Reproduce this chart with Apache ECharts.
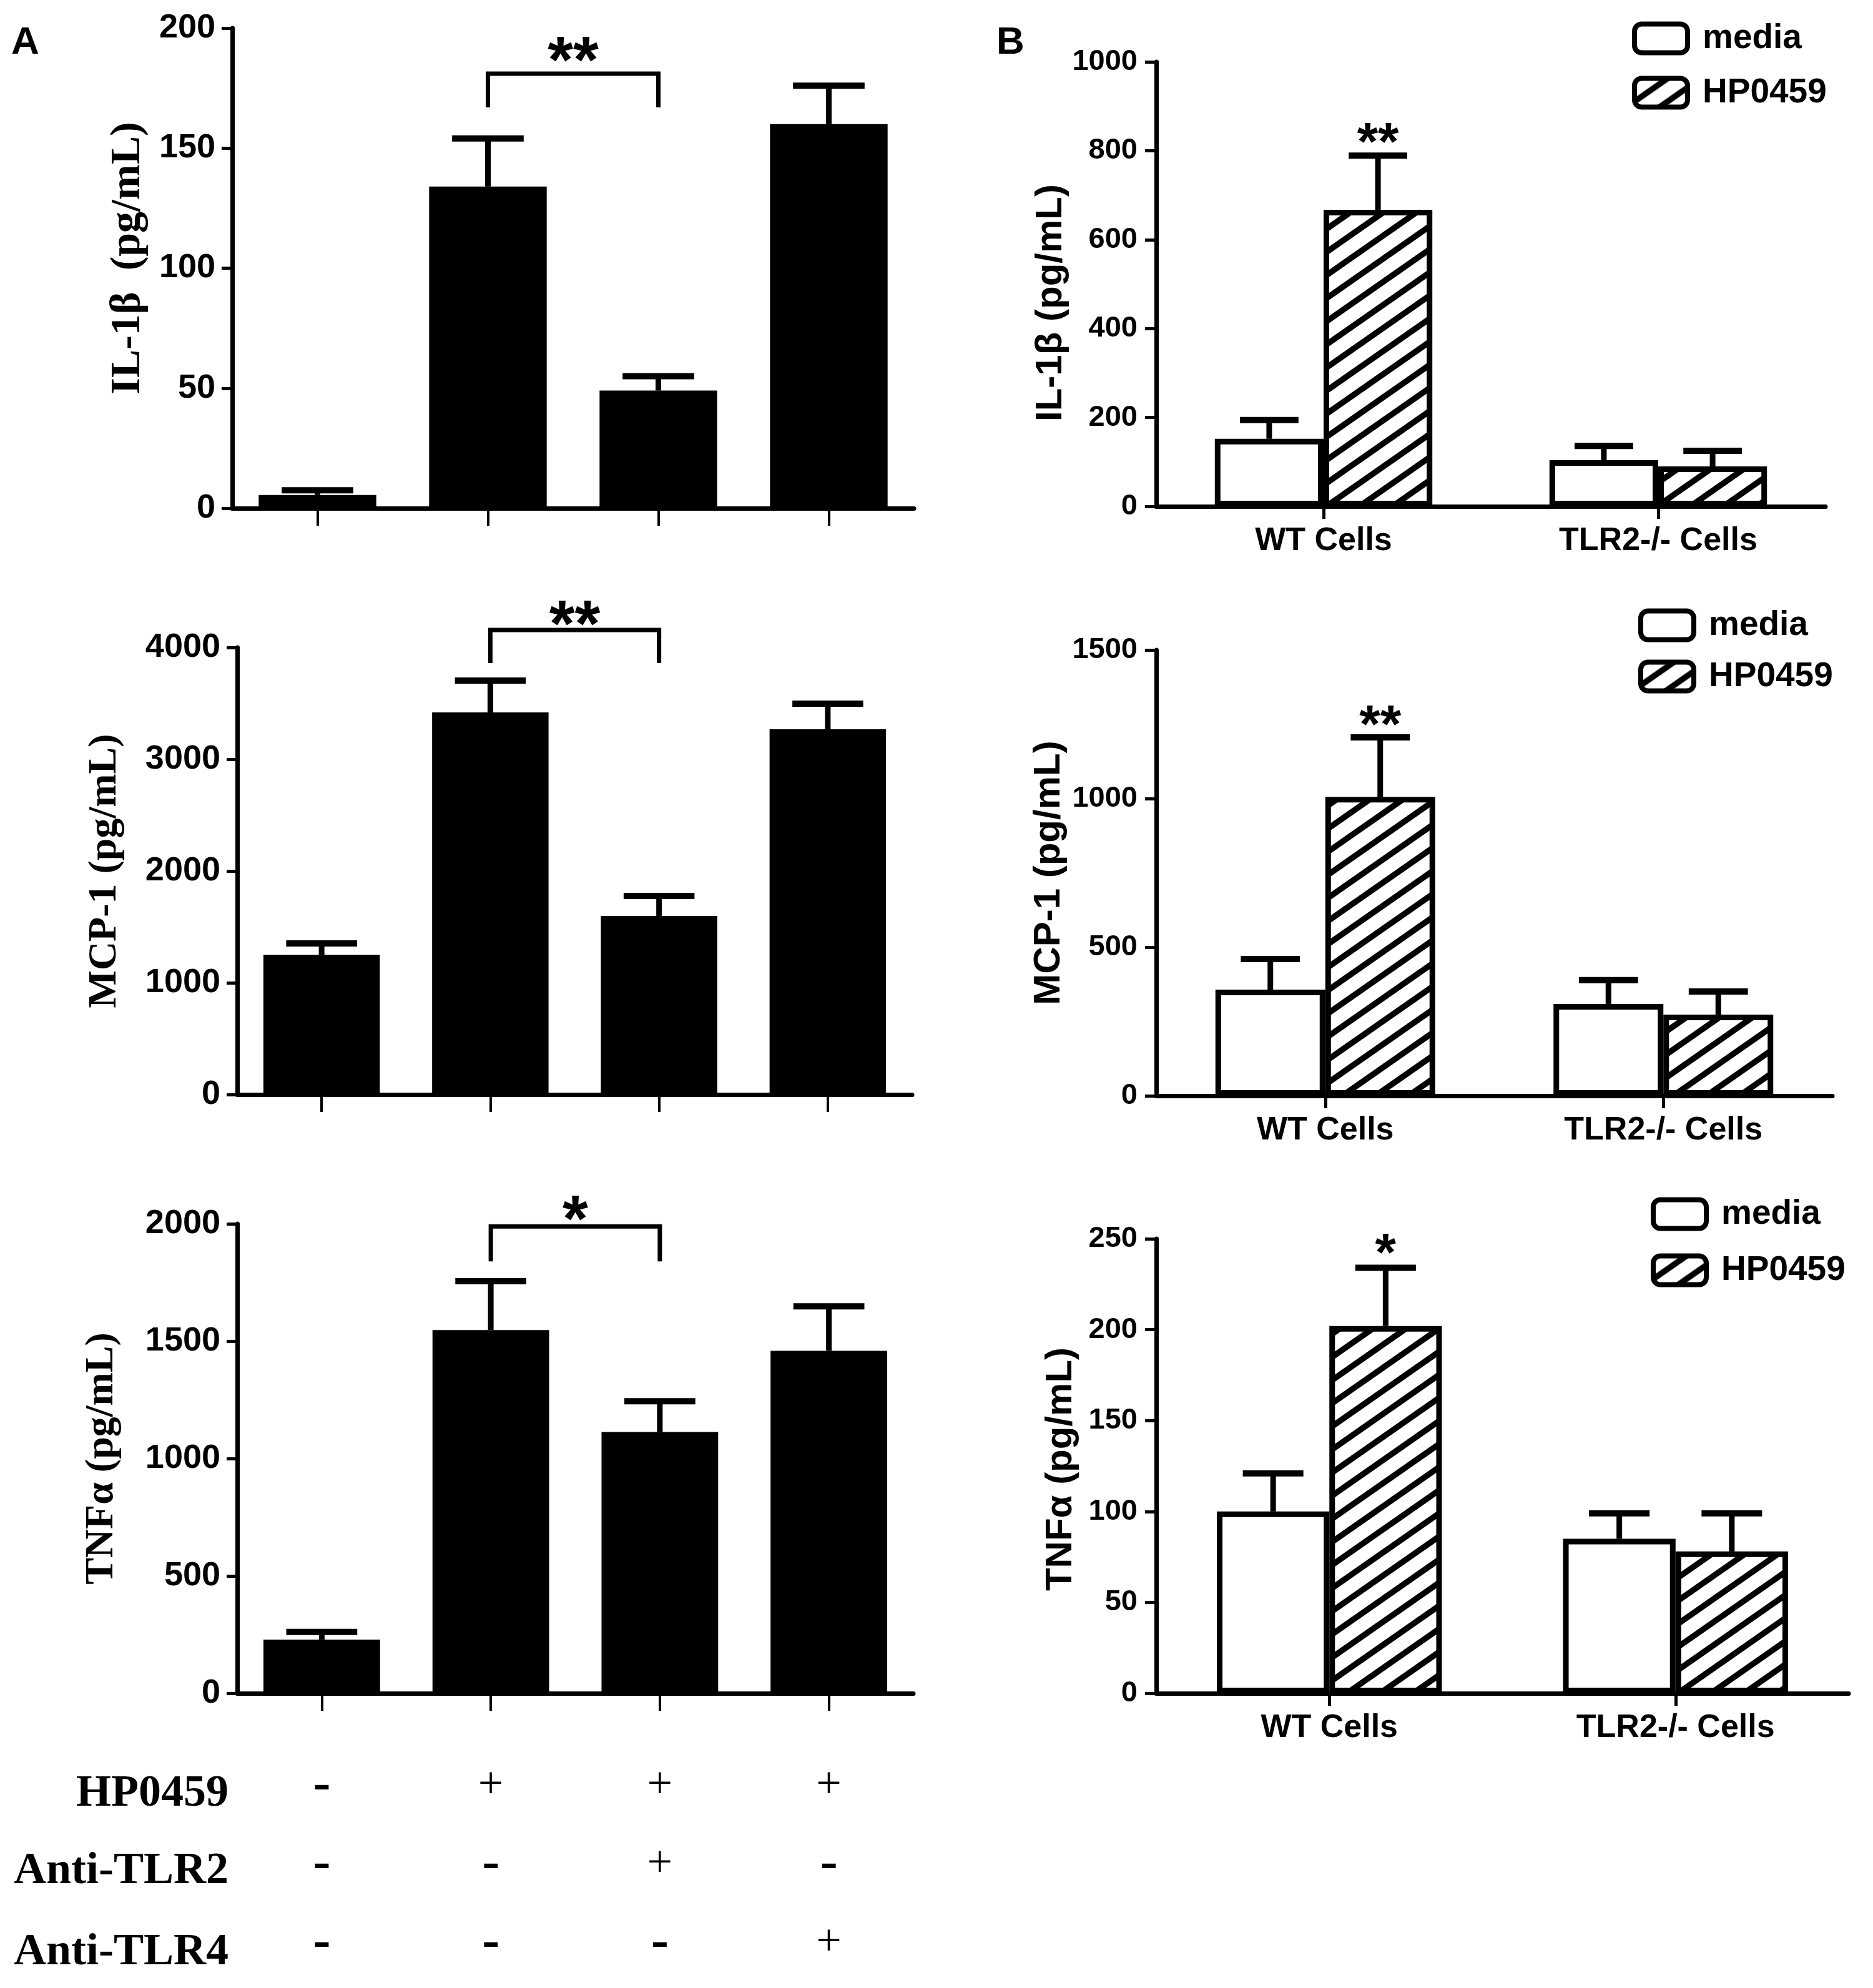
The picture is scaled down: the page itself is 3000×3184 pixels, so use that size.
<!DOCTYPE html>
<html>
<head>
<meta charset="utf-8">
<script src="https://cdn.jsdelivr.net/npm/echarts@6/dist/echarts.min.js"></script>
<style>
html,body{margin:0;padding:0;background:#fff;}
#chart{width:3000px;height:3184px;}
</style>
</head>
<body>
<div id="chart"></div>
<script>
// ---------------- DATA ----------------
const groupsA = ['Control', 'HP0459', 'HP0459 + Anti-TLR2', 'HP0459 + Anti-TLR4'];
const il1bA = [5.5, 134, 49, 160];
const il1bAErr = [7.5, 154, 55, 176];
const mcp1A = [1250, 3419, 1598, 3268];
const mcp1AErr = [1352, 3704, 1776, 3497];
const tnfA = [229, 1547, 1113, 1459];
const tnfAErr = [261, 1755, 1244, 1648];

// significance brackets in panel A: [cat1, cat2, top, leg end]
const bracketIl1bA = [1, 2, 181, 167];
const bracketMcp1A = [1, 2, 4156, 3860];
const bracketTnfA = [1, 2, 1989, 1840];
const sigLabelsA = ['**', '**', '*'];
const sigYA = [191, 4302, 2064];

const hpRow = ['-', '+', '+', '+'];
const tlr2Row = ['-', '-', '+', '-'];
const tlr4Row = ['-', '-', '-', '+'];
const rowLabels = ['HP0459', 'Anti-TLR2', 'Anti-TLR4'];

const cellsB = ['WT Cells', 'TLR2-/- Cells'];
const seriesNamesB = ['media', 'HP0459'];
const il1bMedia = [152, 104];
const il1bMediaErr = [194, 136];
const il1bHP = [667, 90];
const il1bHPErr = [789, 125];
const mcp1Media = [357, 309];
const mcp1MediaErr = [460, 389];
const mcp1HP = [1006, 273];
const mcp1HPErr = [1206, 351];
const tnfMedia = [100, 85];
const tnfMediaErr = [121, 99];
const tnfHP = [202, 78];
const tnfHPErr = [234, 99];
const sigLabelsB = ['**', '**', '*'];
const sigYB = [840, 1279, 247];

const yTitlesA = ['IL-1\u03B2  (pg/mL)', 'MCP-1 (pg/mL)', 'TNF\u03B1 (pg/mL)'];
const yTitlesB = ['IL-1\u03B2 (pg/mL)', 'MCP-1 (pg/mL)', 'TNF\u03B1 (pg/mL)'];
const yMaxA = [200, 4000, 2000];
const yStepA = [50, 1000, 500];
const yMaxB = [1000, 1500, 250];
const yStepB = [200, 500, 50];

// ---------------- STYLE ----------------
const SANS = 'Liberation Sans, Arial, sans-serif';
const SERIF = 'Liberation Serif, Times New Roman, serif';

function makeHatch() {
  const pw = 53, ph = 37;
  const c = document.createElement('canvas');
  c.width = pw; c.height = ph;
  const g = c.getContext('2d');
  g.fillStyle = '#fff';
  g.fillRect(0, 0, pw, ph);
  g.strokeStyle = '#000';
  g.lineWidth = 9.5;
  g.lineCap = 'butt';
  for (let k = -1; k <= 1; k++) {
    g.beginPath();
    g.moveTo(k * pw - pw, 2 * ph);
    g.lineTo(k * pw + 2 * pw, -ph);
    g.stroke();
  }
  return c;
}
const hatch = { image: makeHatch(), repeat: 'repeat' };

const gridsA = [
  { left: 372, top: 45, width: 1092, height: 769 },
  { left: 380, top: 1037, width: 1081, height: 716 },
  { left: 380, top: 1960, width: 1083, height: 752 }
];
const gridsB = [
  { left: 1852, top: 99, width: 1072, height: 712 },
  { left: 1852, top: 1041, width: 1083, height: 714 },
  { left: 1852, top: 1984, width: 1109, height: 728 }
];
const nameGapA = [133, 180, 185];
const nameSizeA = [68, 64, 64];
const namePadA = [[0, 0, 0, 32], [0, 0, 0, 0], [0, 0, 0, 0]];
const nameGapB = [133, 142, 123];
const namePadB = [[0, 60, 0, 0], [0, 0, 0, 0], [0, 10, 0, 0]];
const legendPos = [
  { left: 2614, top: 34, gap: 32 },
  { left: 2624, top: 974, gap: 27 },
  { left: 2644, top: 1917, gap: 35 }
];

const grids = [];
const xAxes = [];
const yAxes = [];
const series = [];
const legends = [];

function plainNum(v) { return String(v); }

function errRender(offsetFrac, capFrac) {
  return function (params, api) {
    const cat = api.value(0), v = api.value(1), e = api.value(2);
    const p0 = api.coord([cat, v]);
    const p1 = api.coord([cat, e]);
    const band = api.size([1, 0])[0];
    const x = p0[0] + band * offsetFrac;
    const hw = band * capFrac / 2;
    return {
      type: 'group',
      children: [
        { type: 'line', shape: { x1: x, y1: p0[1], x2: x, y2: p1[1] }, style: { stroke: '#000', lineWidth: 9 } },
        { type: 'line', shape: { x1: x - hw, y1: p1[1], x2: x + hw, y2: p1[1] }, style: { stroke: '#000', lineWidth: 10 } }
      ]
    };
  };
}

function bracketRender(params, api) {
  const pa = api.coord([api.value(0), api.value(2)]);
  const pb = api.coord([api.value(1), api.value(2)]);
  const legY = api.coord([api.value(0), api.value(3)])[1];
  return {
    type: 'polyline',
    shape: { points: [[pa[0], legY], [pa[0], pa[1]], [pb[0], pb[1]], [pb[0], legY]] },
    style: { stroke: '#000', lineWidth: 7, fill: null, lineJoin: 'miter' }
  };
}

function starRender(label, fs, offsetFrac) {
  return function (params, api) {
    const pa = api.coord([api.value(0), api.value(2)]);
    const pb = api.coord([api.value(1), api.value(2)]);
    const band = api.size([1, 0])[0];
    const x = (pa[0] + pb[0]) / 2 + band * offsetFrac;
    return {
      type: 'text',
      x: x,
      y: pa[1] + fs * 0.22,
      style: { text: label, fill: '#000', fontSize: fs, fontWeight: 'bold', fontFamily: SANS, align: 'center', verticalAlign: 'middle' }
    };
  };
}

// ---------------- PANEL A ----------------
const aVals = [il1bA, mcp1A, tnfA];
const aErrs = [il1bAErr, mcp1AErr, tnfAErr];
const aBrackets = [bracketIl1bA, bracketMcp1A, bracketTnfA];
for (let i = 0; i < 3; i++) {
  grids.push(Object.assign({ outerBoundsMode: 'none', containLabel: false }, gridsA[i]));
  const gi = grids.length - 1;
  const isLast = i === 2;
  xAxes.push({
    type: 'category', gridIndex: gi, data: groupsA,
    axisLine: { show: true, lineStyle: { color: '#000', width: 7 } },
    axisTick: { show: true, alignWithLabel: true, length: 28, lineStyle: { color: '#000', width: 4 } },
    axisLabel: isLast ? {
      show: true, interval: 0, margin: 85,
      formatter: function (val, idx) {
        return [hpRow[idx], tlr2Row[idx], tlr4Row[idx]].map(function (s) {
          return s === '+' ? '{p|+}' : '{m|-}';
        }).join('\n');
      },
      rich: {
        p: { fontFamily: SERIF, fontSize: 72, lineHeight: 126, color: '#000' },
        m: { fontFamily: SERIF, fontWeight: 'bold', fontSize: 84, lineHeight: 126, color: '#000' }
      }
    } : { show: false },
    splitLine: { show: false }
  });
  yAxes.push({
    type: 'value', gridIndex: gi, min: 0, max: yMaxA[i], interval: yStepA[i],
    name: yTitlesA[i], nameLocation: 'middle', nameGap: nameGapA[i], nameRotate: 90,
    nameTextStyle: { fontFamily: SERIF, fontWeight: 'bold', fontSize: nameSizeA[i], color: '#000', padding: namePadA[i] },
    axisLine: { show: true, lineStyle: { color: '#000', width: 7 } },
    axisTick: { show: true, length: 17, lineStyle: { color: '#000', width: 5 } },
    axisLabel: { fontFamily: SANS, fontWeight: 'bold', fontSize: 54, color: '#000', margin: 27, formatter: plainNum },
    splitLine: { show: false }
  });
  series.push({
    type: 'bar', name: 'A' + i, xAxisIndex: gi, yAxisIndex: gi,
    data: aVals[i], barWidth: '69%',
    itemStyle: { color: '#000' }, z: 2
  });
  series.push({
    type: 'custom', xAxisIndex: gi, yAxisIndex: gi, z: 3,
    renderItem: errRender(0, 0.42),
    data: aVals[i].map(function (v, k) { return [k, v, aErrs[i][k]]; })
  });
  series.push({
    type: 'custom', xAxisIndex: gi, yAxisIndex: gi, z: 3,
    encode: { x: [0, 1], y: [2, 3] },
    renderItem: bracketRender,
    data: [aBrackets[i]]
  });
  series.push({
    type: 'custom', xAxisIndex: gi, yAxisIndex: gi, z: 3,
    encode: { x: [0, 1], y: [2] },
    renderItem: starRender(sigLabelsA[i], 105, 0),
    data: [[aBrackets[i][0], aBrackets[i][1], sigYA[i]]]
  });
}

// ---------------- PANEL B ----------------
const bMedia = [il1bMedia, mcp1Media, tnfMedia];
const bMediaErr = [il1bMediaErr, mcp1MediaErr, tnfMediaErr];
const bHP = [il1bHP, mcp1HP, tnfHP];
const bHPErr = [il1bHPErr, mcp1HPErr, tnfHPErr];
const BW = 0.325;
for (let i = 0; i < 3; i++) {
  grids.push(Object.assign({ outerBoundsMode: 'none', containLabel: false }, gridsB[i]));
  const gi = grids.length - 1;
  xAxes.push({
    type: 'category', gridIndex: gi, data: cellsB,
    axisLine: { show: true, lineStyle: { color: '#000', width: 7 } },
    axisTick: { show: true, alignWithLabel: true, length: 20, lineStyle: { color: '#000', width: 5 } },
    axisLabel: { fontFamily: SANS, fontWeight: 'bold', fontSize: 52, color: '#000', margin: 30, interval: 0 },
    splitLine: { show: false }
  });
  yAxes.push({
    type: 'value', gridIndex: gi, min: 0, max: yMaxB[i], interval: yStepB[i],
    name: yTitlesB[i], nameLocation: 'middle', nameGap: nameGapB[i], nameRotate: 90,
    nameTextStyle: { fontFamily: SANS, fontWeight: 'bold', fontSize: 60, color: '#000', padding: namePadB[i] },
    axisLine: { show: true, lineStyle: { color: '#000', width: 7 } },
    axisTick: { show: true, length: 18, lineStyle: { color: '#000', width: 5 } },
    axisLabel: { fontFamily: SANS, fontWeight: 'bold', fontSize: 47, color: '#000', margin: 30, formatter: plainNum },
    splitLine: { show: false }
  });
  series.push({
    type: 'bar', name: seriesNamesB[0], xAxisIndex: gi, yAxisIndex: gi,
    data: bMedia[i], barWidth: (BW * 100) + '%', barGap: '0%',
    itemStyle: { color: '#fff', borderColor: '#000', borderWidth: 9 }, z: 2
  });
  series.push({
    type: 'bar', name: seriesNamesB[1], xAxisIndex: gi, yAxisIndex: gi,
    data: bHP[i], barWidth: (BW * 100) + '%', barGap: '0%',
    itemStyle: { color: hatch, borderColor: '#000', borderWidth: 9 }, z: 2
  });
  series.push({
    type: 'custom', xAxisIndex: gi, yAxisIndex: gi, z: 3,
    renderItem: errRender(-BW / 2, 0.175),
    data: bMedia[i].map(function (v, k) { return [k, v, bMediaErr[i][k]]; })
  });
  series.push({
    type: 'custom', xAxisIndex: gi, yAxisIndex: gi, z: 3,
    renderItem: errRender(BW / 2, 0.175),
    data: bHP[i].map(function (v, k) { return [k, v, bHPErr[i][k]]; })
  });
  series.push({
    type: 'custom', xAxisIndex: gi, yAxisIndex: gi, z: 3,
    encode: { x: [0, 1], y: [2] },
    renderItem: starRender(sigLabelsB[i], 86, BW / 2),
    data: [[0, 0, sigYB[i]]]
  });
  legends.push({
    data: seriesNamesB, orient: 'vertical', selectedMode: false, padding: 0,
    left: legendPos[i].left, top: legendPos[i].top, itemGap: legendPos[i].gap,
    itemWidth: 85, itemHeight: 46, icon: 'roundRect',
    itemStyle: { borderWidth: 8, borderColor: '#000' },
    textStyle: { fontFamily: SANS, fontWeight: 'bold', fontSize: 55, color: '#000', lineHeight: 44, padding: [0, 0, 0, 19] }
  });
}

const graphics = [
  { type: 'text', left: 18, top: 38, style: { text: 'A', fontFamily: SANS, fontWeight: 'bold', fontSize: 62, fill: '#000' } },
  { type: 'text', left: 1596, top: 38, style: { text: 'B', fontFamily: SANS, fontWeight: 'bold', fontSize: 62, fill: '#000' } }
];
const rowY = [2873, 2997, 3127];
rowLabels.forEach(function (t, k) {
  graphics.push({
    type: 'text', x: 366, y: rowY[k],
    style: { text: t, fontFamily: SERIF, fontWeight: 'bold', fontSize: 72, fill: '#000', align: 'right', verticalAlign: 'middle' }
  });
});

const chart = echarts.init(document.getElementById('chart'), null, { renderer: 'canvas' });
chart.setOption({
  backgroundColor: '#fff',
  animation: false,
  grid: grids,
  xAxis: xAxes,
  yAxis: yAxes,
  legend: legends,
  graphic: graphics,
  series: series
});
</script>
</body>
</html>
